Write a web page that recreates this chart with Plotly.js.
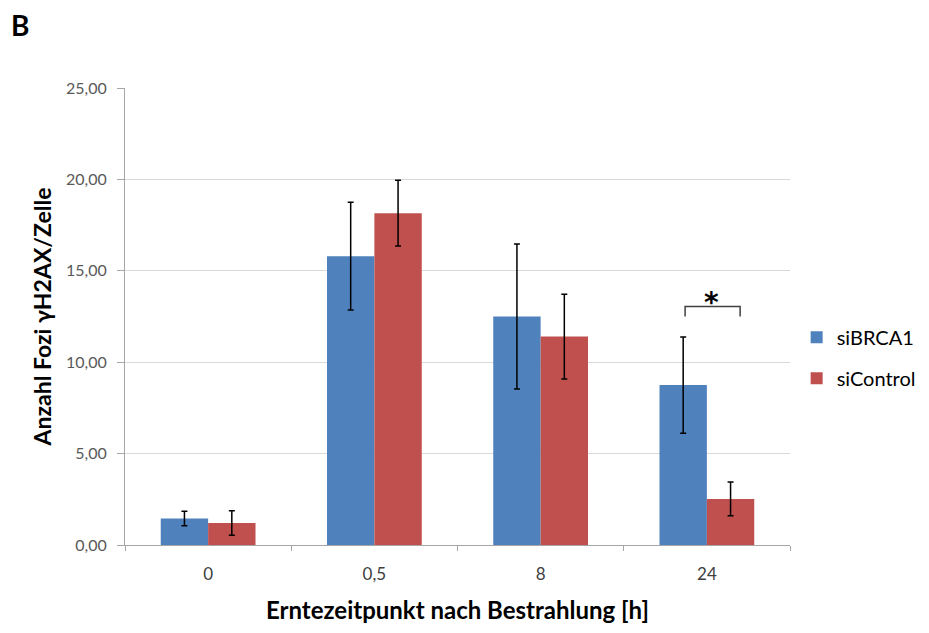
<!DOCTYPE html>
<html>
<head>
<meta charset="utf-8">
<script src="https://cdn.plot.ly/plotly-3.0.1.min.js"></script>
<style>html,body{margin:0;padding:0;background:#fff;}#chart{width:929px;height:633px;}</style>
</head>
<body>
<div id="chart"></div>
<script>
const categories = ["0", "0,5", "8", "24"];
const siBRCA1 = [1.45, 15.8, 12.5, 8.75];
const siBRCA1Err = [0.4, 2.95, 3.97, 2.63];
const siControl = [1.2, 18.15, 11.4, 2.52];
const siControlErr = [0.67, 1.8, 2.32, 0.92];
const seriesNames = ["siBRCA1", "siControl"];

const font = "Lato, 'Open Sans', sans-serif";

const traces = [
  {type: "bar", name: seriesNames[0], x: categories, y: siBRCA1, legendgroup: "a",
   marker: {color: "#4f81bd"},
   error_y: {type: "data", array: siBRCA1Err, visible: true, color: "#000", thickness: 1.5, width: 3}},
  {type: "bar", name: seriesNames[1], x: categories, y: siControl, legendgroup: "b",
   marker: {color: "#c0504d"},
   error_y: {type: "data", array: siControlErr, visible: true, color: "#000", thickness: 1.5, width: 3}}
];

const layout = {
  width: 929, height: 633,
  margin: {l: 125, r: 139, t: 88, b: 88, pad: 0, autoexpand: false},
  paper_bgcolor: "#fff", plot_bgcolor: "#fff",
  separators: ",.",
  barmode: "group", bargap: 0.43, bargroupgap: 0,
  font: {family: font, color: "#404040"},
  xaxis: {type: "category", showgrid: false, showline: true, linecolor: "#a6a6a6", linewidth: 1,
    ticks: "outside", tickson: "boundaries", ticklen: 5, tickcolor: "#a6a6a6",
    ticklabelstandoff: 14,
    tickfont: {size: 17, color: "#404040", family: font},
    title: {text: "Erntezeitpunkt nach Bestrahlung [h]", font: {size: 24, color: "#000", family: font, weight: "bold"}, standoff: 18}},
  yaxis: {range: [0, 25], dtick: 5, tickformat: ".2f", showgrid: true, gridcolor: "#d9d9d9", gridwidth: 1,
    showline: true, linecolor: "#a6a6a6", linewidth: 1, ticks: "outside", ticklen: 7, tickcolor: "#a6a6a6",
    ticklabelstandoff: 7,
    zeroline: false, tickfont: {size: 16, color: "#595959", family: font},
    title: {text: "Anzahl Fozi γH2AX/Zelle", font: {size: 23, color: "#000", family: font, weight: "bold"}, standoff: 7}},
  legend: {x: 1.01, y: 0.41, yanchor: "middle", xanchor: "left", font: {size: 20, color: "#000", family: font},
    tracegroupgap: 12, itemwidth: 30, bgcolor: "rgba(0,0,0,0)"},
  shapes: [
    {type: "path", xref: "x", yref: "y", path: "M 2.869 12.5 L 2.869 13.05 L 3.2 13.05 L 3.2 12.5",
     line: {color: "#404040", width: 1.5}}
  ],
  annotations: [
    {text: "<b>B</b>", xref: "paper", yref: "paper", x: -0.175, y: 1.138, xanchor: "left", yanchor: "middle",
     showarrow: false, font: {size: 28, color: "#000", family: font}},
    {text: "<b>*</b>", xref: "x", yref: "y", x: 3.025, y: 13.05, yanchor: "bottom", showarrow: false,
     font: {size: 28, color: "#000", family: "DejaVu Sans, sans-serif"}, yshift: -15}
  ]
};

Plotly.newPlot("chart", traces, layout, {displayModeBar: false, staticPlot: true});
</script>
</body>
</html>
